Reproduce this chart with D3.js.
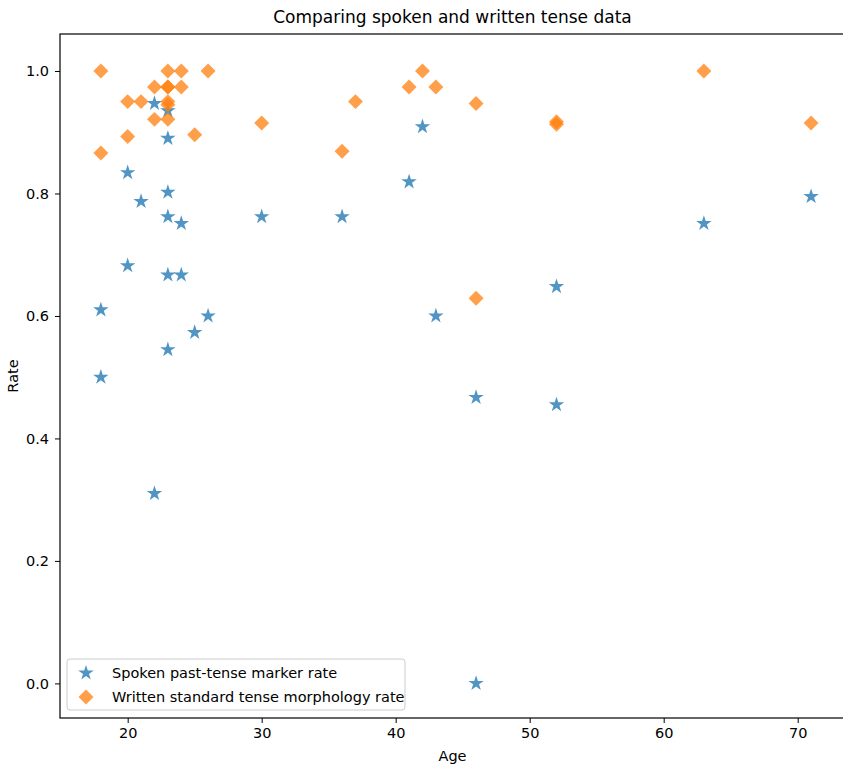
<!DOCTYPE html>
<html>
<head>
<meta charset="utf-8">
<script src="https://cdn.jsdelivr.net/npm/d3@7"></script>
<style>
  body { margin: 0; background: #fff; }
  text { font-family: "DejaVu Sans", sans-serif; fill: #000; }
</style>
</head>
<body>
<div id="chart"></div>
<script>
// spoken past-tense marker rate (stars)
const spokenAge = [18, 18, 20, 20, 21, 22, 22, 23, 23, 23, 23, 23, 23, 24, 24, 25, 26, 30, 36, 41, 42, 43, 46, 46, 52, 52, 63, 71];
const spokenRate = [0.61, 0.5, 0.834, 0.682, 0.787, 0.947, 0.31, 0.935, 0.89, 0.802, 0.762, 0.667, 0.545, 0.751, 0.667, 0.573, 0.6, 0.762, 0.762, 0.819, 0.909, 0.6, 0.467, 0.0, 0.648, 0.455, 0.751, 0.795];

// written standard tense morphology rate (diamonds)
const writtenAge = [18, 18, 20, 20, 21, 22, 22, 23, 23, 23, 23, 23, 23, 24, 24, 25, 26, 30, 36, 37, 41, 42, 43, 46, 46, 52, 52, 63, 71];
const writtenRate = [1.0, 0.866, 0.95, 0.893, 0.95, 0.974, 0.921, 1.0, 0.974, 0.974, 0.95, 0.945, 0.921, 1.0, 0.974, 0.896, 1.0, 0.915, 0.869, 0.95, 0.974, 1.0, 0.974, 0.947, 0.629, 0.917, 0.913, 1.0, 0.915];

const xTicks = [20, 30, 40, 50, 60, 70];
const yTicks = [0.0, 0.2, 0.4, 0.6, 0.8, 1.0];
const seriesNames = ["Spoken past-tense marker rate", "Written standard tense morphology rate"];
const colors = ["#1f77b4", "#ff7f0e"];

const width = 843, height = 766;
const plotL = 60, plotR = 845, plotT = 34, plotB = 718;

const svg = d3.select("#chart").append("svg")
  .attr("width", width).attr("height", height);

const x = d3.scaleLinear().domain([14.95, 73.53]).range([plotL, plotR]);
const y = d3.scaleLinear().domain([-0.0565, 1.0604]).range([plotB, plotT]);

const starPath = d3.symbol().type(d3.symbolStar).size(74)();
const diamondPath = d3.symbol().type(d3.symbolSquare).size(112)();

// points
const spoken = spokenAge.map((a, i) => [a, spokenRate[i]]);
const written = writtenAge.map((a, i) => [a, writtenRate[i]]);

svg.append("g").selectAll("path").data(spoken).enter().append("path")
  .attr("d", starPath)
  .attr("transform", d => `translate(${x(d[0])},${y(d[1])})`)
  .attr("fill", colors[0]).attr("fill-opacity", 0.78);

svg.append("g").selectAll("path").data(written).enter().append("path")
  .attr("d", diamondPath)
  .attr("transform", d => `translate(${x(d[0])},${y(d[1])}) rotate(45)`)
  .attr("fill", colors[1]).attr("fill-opacity", 0.75);

// axes
const xAxis = svg.append("g").attr("transform", `translate(0,${plotB})`)
  .call(d3.axisBottom(x).tickValues(xTicks).tickFormat(d3.format("d")).tickSize(5).tickPadding(5));
const yAxis = svg.append("g").attr("transform", `translate(${plotL},0)`)
  .call(d3.axisLeft(y).tickValues(yTicks).tickFormat(d3.format(".1f")).tickSize(5).tickPadding(6));
[xAxis, yAxis].forEach(g => {
  g.select(".domain").remove();
  g.selectAll("line").attr("stroke", "#000").attr("stroke-width", 1);
  g.selectAll("text").style("font-family", "DejaVu Sans").style("font-size", "14.5px").attr("fill", "#000");
});

// frame
svg.append("rect")
  .attr("x", plotL).attr("y", plotT).attr("width", plotR - plotL).attr("height", plotB - plotT)
  .attr("fill", "none").attr("stroke", "#000").attr("stroke-width", 1.2);

// labels
svg.append("text").attr("x", (plotL + plotR) / 2).attr("y", 23)
  .attr("text-anchor", "middle").style("font-size", "17px")
  .text("Comparing spoken and written tense data");
svg.append("text").attr("x", (plotL + plotR) / 2).attr("y", 761)
  .attr("text-anchor", "middle").style("font-size", "14.5px").text("Age");
svg.append("text").attr("transform", `translate(18,${(plotT + plotB) / 2}) rotate(-90)`)
  .attr("text-anchor", "middle").style("font-size", "14.5px").text("Rate");

// legend
const lg = svg.append("g").attr("transform", "translate(67,659)");
lg.append("rect").attr("width", 338).attr("height", 51).attr("rx", 3)
  .attr("fill", "#fff").attr("fill-opacity", 0.8).attr("stroke", "#ccc");
lg.append("path").attr("d", starPath).attr("transform", "translate(19,14)")
  .attr("fill", colors[0]).attr("fill-opacity", 0.78);
lg.append("path").attr("d", diamondPath).attr("transform", "translate(19,38) rotate(45)")
  .attr("fill", colors[1]).attr("fill-opacity", 0.75);
seriesNames.forEach((n, i) => {
  lg.append("text").attr("x", 45).attr("y", 19 + i * 23.5)
    .style("font-size", "14.5px").text(n);
});
</script>
</body>
</html>
